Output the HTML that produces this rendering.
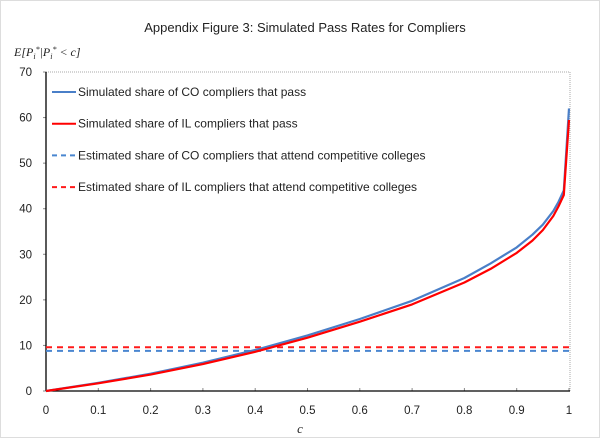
<!DOCTYPE html>
<html><head><meta charset="utf-8"><style>
body{margin:0;background:#fff;}
svg{display:block;font-family:"Liberation Sans",sans-serif;}
</style></head><body>
<svg width="600" height="438">
<rect x="0.5" y="0.5" width="599" height="437" fill="#fff" stroke="#bbb" stroke-dasharray="1,1"/>
<text x="305" y="32" text-anchor="middle" font-size="13" fill="#222">Appendix Figure 3: Simulated Pass Rates for Compliers</text>
<text x="14" y="56" font-size="12" font-style="italic" font-family="Liberation Serif,serif" fill="#222">E[P<tspan font-size="8" dy="3">i</tspan><tspan font-size="8" dy="-7">*</tspan><tspan dy="4">|P</tspan><tspan font-size="8" dy="3">i</tspan><tspan font-size="8" dy="-7">*</tspan><tspan dy="4"> &lt; c]</tspan></text>
<text x="300" y="433" text-anchor="middle" font-size="13" font-style="italic" font-family="Liberation Serif,serif" fill="#222">c</text>
<g id="plot"></g>
</svg>
<script>
const cVals=[0,0.1,0.2,0.3,0.4,0.5,0.6,0.7,0.8,0.85,0.9,0.93,0.95,0.97,0.98,0.99,1.0];
const coVals=[0,1.8,3.8,6.2,9,12.2,15.8,19.8,24.8,28,31.5,34.3,36.5,39.5,41.5,44,62];
const ilVals=[0,1.7,3.6,5.9,8.6,11.7,15.2,19.0,23.8,26.8,30.3,33.0,35.3,38.4,40.5,43,59.5];
const coDash=8.8, ilDash=9.6;
const yTicks=[0,10,20,30,40,50,60,70];
const xTicks=[0,0.1,0.2,0.3,0.4,0.5,0.6,0.7,0.8,0.9,1];
const X0=46,X1=569,Y0=391,Y1=72;
const sx=v=>X0+(X1-X0)*v, sy=v=>Y0-(Y0-Y1)*v/70;
const g=document.getElementById('plot');
const NS='http://www.w3.org/2000/svg';
function mk(t,a){const e=document.createElementNS(NS,t);for(const k in a)e.setAttribute(k,a[k]);g.appendChild(e);return e;}
let e=mk('path',{d:`M${X0},${Y1}H${X1+1}V${Y0}`,fill:'none',stroke:'#aaa','stroke-dasharray':'1,1'});


yTicks.forEach(v=>{const t=mk('text',{x:X0-14,y:sy(v)+4,'text-anchor':'end','font-size':'11.5',fill:'#222'});t.textContent=v;


mk('line',{x1:X0-3,x2:X0,y1:sy(v),y2:sy(v),stroke:'#888'});});
xTicks.forEach(v=>{const t=mk('text',{x:sx(v),y:Y0+23,'text-anchor':'middle','font-size':'11.5',fill:'#222'});t.textContent=v;


mk('line',{x1:sx(v),x2:sx(v),y1:Y0-3,y2:Y0,stroke:'#888'});});
e=mk('line',{x1:X0,x2:X0,y1:Y1,y2:Y0,stroke:'#000','stroke-width':1.3});


e=mk('line',{x1:X0,x2:X1+1,y1:Y0,y2:Y0,stroke:'#000','stroke-width':1.3});


e=mk('line',{x1:X0,x2:X1,y1:sy(coDash),y2:sy(coDash),stroke:'#4a86d0','stroke-width':2,'stroke-dasharray':'6,5'});


e=mk('line',{x1:X0,x2:X1,y1:sy(ilDash),y2:sy(ilDash),stroke:'#ff1a1a','stroke-width':2,'stroke-dasharray':'6,5'});


const pts=a=>a.map((v,i)=>`${sx(cVals[i]).toFixed(1)},${sy(v).toFixed(1)}`).join(' ');
e=mk('polyline',{points:pts(coVals),fill:'none',stroke:'#4a7fc8','stroke-width':2.2,'stroke-linejoin':'round'});


e=mk('polyline',{points:pts(ilVals),fill:'none',stroke:'#ff0000','stroke-width':2.2,'stroke-linejoin':'round'});


const leg=[['Simulated share of CO compliers that pass','#4a7fc8',''],['Simulated share of IL compliers that pass','#ff0000',''],['Estimated share of CO compliers that attend competitive colleges','#4a86d0','5,4'],['Estimated share of IL compliers that attend competitive colleges','#ff1a1a','5,4']];
leg.forEach((l,i)=>{const y=92+i*31.7;
const ln=mk('line',{x1:52,x2:76,y1:y,y2:y,stroke:l[1],'stroke-width':2,'stroke-dasharray':l[2]});


const t=mk('text',{x:78,y:y+4,'font-size':'12',fill:'#222'});t.textContent=l[0];

});
</script>
</body></html>
